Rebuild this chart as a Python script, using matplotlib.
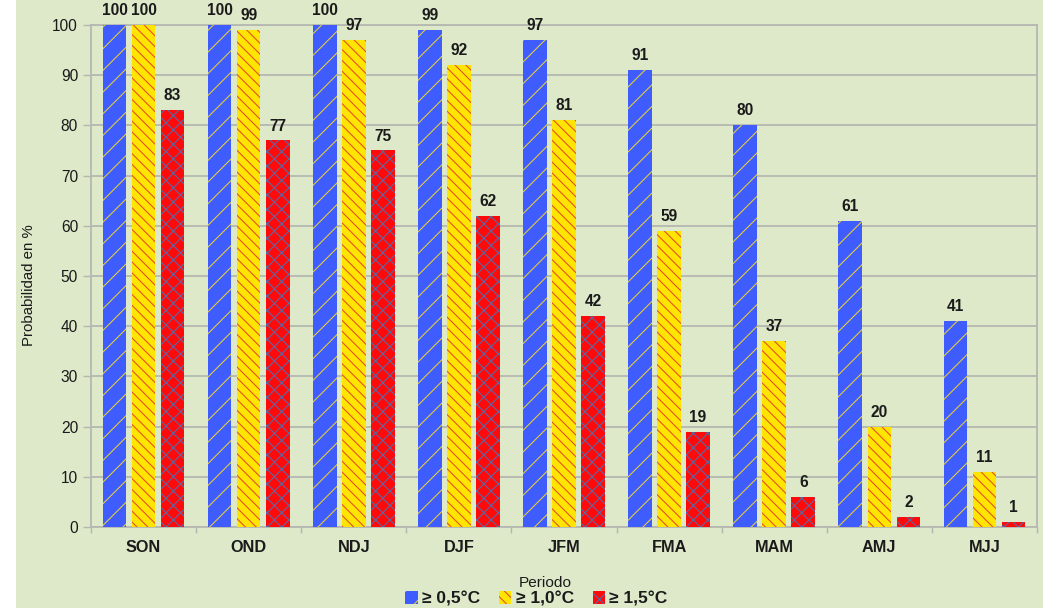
import matplotlib
matplotlib.use("Agg")
import matplotlib.pyplot as plt
from matplotlib.patches import Rectangle
import numpy as np

# Seasonal periods and probabilities (%) of each anomaly threshold
periods = ["SON", "OND", "NDJ", "DJF", "JFM", "FMA", "MAM", "AMJ", "MJJ"]
prob_05 = [100, 100, 100, 99, 97, 91, 80, 61, 41]
prob_10 = [100, 99, 97, 92, 81, 59, 37, 20, 11]
prob_15 = [83, 77, 75, 62, 42, 19, 6, 2, 1]
series_labels = ["≥ 0,5°C", "≥ 1,0°C", "≥ 1,5°C"]
y_ticks = [0, 10, 20, 30, 40, 50, 60, 70, 80, 90, 100]

DPI = 130
W, H = 1043, 608
BG = "#dde9c9"
GRID = "#b5b8b0"
TXT = "#1a1a1a"

plt.rcParams["font.family"] = ["Liberation Sans", "DejaVu Sans"]
plt.rcParams["hatch.linewidth"] = 0.6

fig = plt.figure(figsize=(W / DPI, H / DPI), dpi=DPI, facecolor=BG)
# white strip along the left edge
fig.add_artist(Rectangle((0, 0), 16 / W, 1, transform=fig.transFigure,
                         facecolor="white", edgecolor="none", zorder=-10))

ax = fig.add_axes([91 / W, 1 - 527 / H, (1037 - 91) / W, (527 - 25) / H])
ax.set_facecolor(BG)

x = np.arange(len(periods))
step = 0.276
width = 0.225
styles = [
    (prob_05, "#3f5cff", "#e2cf3a", "//"),
    (prob_10, "#ffe500", "#e2502a", "\\\\\\\\"),
    (prob_15, "#ff0a0a", "#5a68a6", "xxx"),
]

handles = []
for k, (vals, fc, hc, hatch) in enumerate(styles):
    pos = x + (k - 1) * step
    bars = ax.bar(pos, vals, width, facecolor=fc, edgecolor=hc, hatch=hatch,
                  linewidth=0, zorder=3, label=series_labels[k])
    handles.append(bars)
    for xp, v in zip(pos, vals):
        ax.annotate(f"{v}", (xp, v), xytext=(0, 5.5), textcoords="offset points",
                    ha="center", va="baseline", fontsize=8.6,
                    fontweight="bold", color=TXT, zorder=5)

ax.set_xlim(-0.5, len(periods) - 0.5)
ax.set_ylim(0, 100)
ax.set_yticks(y_ticks)
ax.yaxis.grid(True, color=GRID, linewidth=1.0, zorder=0)
ax.set_axisbelow(True)

# category boundaries carry the tick marks, centres carry the labels
ax.set_xticks(np.arange(len(periods) + 1) - 0.5)
ax.set_xticklabels([])
ax.set_xticks(x, minor=True)
ax.set_xticklabels(periods, minor=True, fontsize=9, fontweight="bold", color=TXT)
ax.tick_params(axis="x", which="major", length=3.3, width=0.8, color=GRID, direction="out")
ax.tick_params(axis="x", which="minor", length=0, pad=7.0)
ax.tick_params(axis="y", length=4.4, width=0.8, color=GRID, pad=2.8,
               labelsize=8.6, labelcolor=TXT)

for side in ["left", "right", "bottom", "top"]:
    ax.spines[side].set_color(GRID)
    ax.spines[side].set_linewidth(1.0)

fig.text(29 / W, 1 - 285.5 / H, "Probabilidad en %", rotation=90,
         ha="center", va="center", fontsize=8.3, color=TXT)
fig.text(545 / W, 1 - 583 / H, "Periodo", ha="center", va="center",
         fontsize=8.5, color=TXT)

fig.legend(handles=handles, labels=series_labels, loc="center",
           bbox_to_anchor=(536.5 / W, 1 - 599 / H), ncol=3, frameon=False,
           prop={"weight": "bold", "size": 9.6}, handlelength=0.7,
           handleheight=0.7, handletextpad=0.25, columnspacing=1.1,
           borderpad=0, labelcolor=TXT)

fig.savefig("out.png", dpi=DPI, facecolor=BG)
